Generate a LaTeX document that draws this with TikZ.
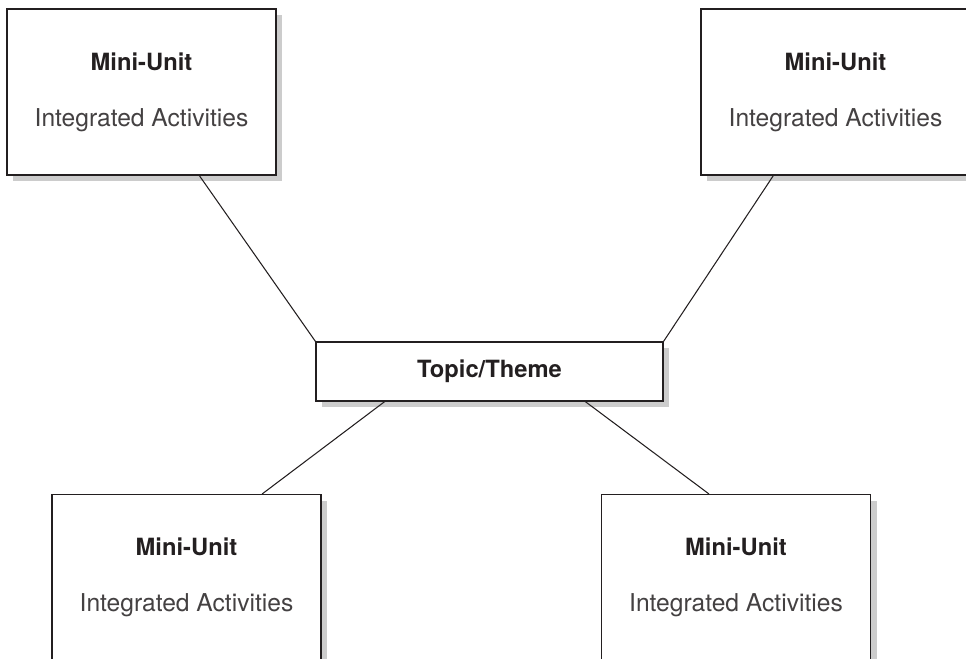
\documentclass[tikz,border=0pt]{standalone}
\usepackage{fontspec}
\setmainfont{TeX Gyre Heros}
\usepackage{tikz}
\usepackage{xcolor}
\usetikzlibrary{shadows,calc}
\definecolor{shade}{RGB}{204,204,204}
\definecolor{ink}{RGB}{35,31,32}
\tikzstyle{unit} = [rectangle, draw=ink, line width=0.6pt, fill=white,
    minimum width=5.38cm, minimum height=3.32cm, inner sep=0pt, align=center,
    drop shadow={shadow xshift=0.12cm, shadow yshift=-0.12cm, fill=shade, opacity=1}]
\tikzstyle{theme} = [unit, minimum width=6.94cm, minimum height=1.18cm]
\tikzstyle{line} = [draw=ink, line width=0.6pt]
\newcommand{\unittext}{\textbf{Mini-Unit}\\[16pt]{\fontsize{14}{16}\selectfont\color{ink!85}Integrated Activities}}

\begin{document}
\begin{tikzpicture}[font=\fontsize{13.5}{16}\selectfont, text=ink]
        \useasboundingbox (0,0) rectangle (19.32,-13.16);
        \node [unit] (topleft) at (2.83,-1.84) {\unittext};
        \node [unit] (topright) at (16.71,-1.84) {\unittext};
        \node [theme] (topic) at (9.79,-7.43) {\textbf{Topic/Theme}};
        \node [unit] (botleft) at (3.73,-11.55) {\unittext};
        \node [unit] (botright) at (14.72,-11.55) {\unittext};
        
        \path [line] ($(topleft.south west)!0.714!(topleft.south east)$) -- (topic.north west);
        \path [line] ($(topright.south west)!0.27!(topright.south east)$) -- (topic.north east);
        \path [line] ($(topic.south west)!0.199!(topic.south east)$) -- ($(botleft.north west)!0.78!(botleft.north east)$);
        \path [line] ($(topic.south west)!0.775!(topic.south east)$) -- ($(botright.north west)!0.40!(botright.north east)$);
    \end{tikzpicture}
\end{document}
